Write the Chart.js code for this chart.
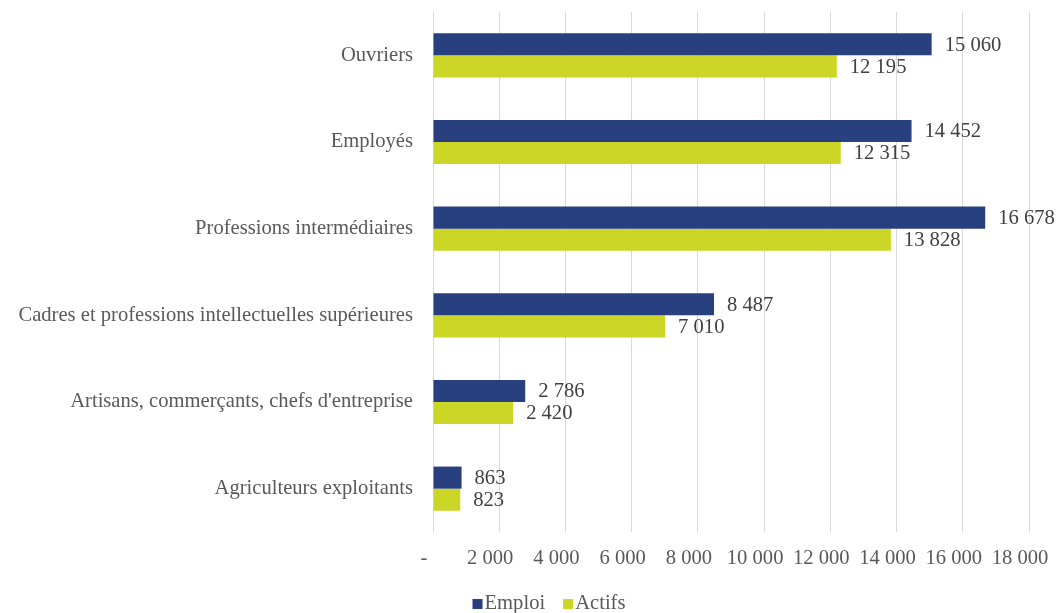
<!DOCTYPE html>
<html><head><meta charset="utf-8">
<script src="https://cdn.jsdelivr.net/npm/chart.js@4"></script>
<style>html,body{margin:0;padding:0;background:#fff}#wrap{width:1062px;height:613px}</style>
</head><body><div id="wrap"><canvas id="c" width="1062" height="613"></canvas></div>
<script>
const categories = ["Ouvriers","Employés","Professions intermédiaires","Cadres et professions intellectuelles supérieures","Artisans, commerçants, chefs d'entreprise","Agriculteurs exploitants"];
const emploi = [15060,14452,16678,8487,2786,863];
const actifs = [12195,12315,13828,7010,2420,823];
const xTicks = [0,2000,4000,6000,8000,10000,12000,14000,16000,18000];

const FONT = "'Liberation Serif', 'Times New Roman', serif";
const FS = 20.6;
const fmt = v => v === 0 ? '-' : String(v).replace(/\B(?=(\d{3})+(?!\d))/g, ' ');

const labelPlugin = {
  id: 'vlabels',
  afterDatasetsDraw(chart) {
    const ctx = chart.ctx;
    ctx.save();
    ctx.font = FS + 'px ' + FONT;
    ctx.fillStyle = '#404040';
    ctx.textAlign = 'left';
    ctx.textBaseline = 'middle';
    chart.data.datasets.forEach((ds, i) => {
      chart.getDatasetMeta(i).data.forEach((bar, j) => {
        ctx.fillText(fmt(ds.data[j]), bar.x + 13, bar.y + 1);
      });
    });
    ctx.restore();
  }
};

const legendPlugin = {
  id: 'customLegend',
  afterDraw(chart) {
    const ctx = chart.ctx;
    ctx.save();
    ctx.font = FS + 'px ' + FONT;
    ctx.textBaseline = 'middle';
    ctx.textAlign = 'left';
    const box = 10, gapBox = 2, gapItem = 18;
    const items = chart.data.datasets.map(d => ({label: d.label, color: d.backgroundColor, w: ctx.measureText(d.label).width}));
    const total = items.reduce((s, it) => s + box + gapBox + it.w, 0) + gapItem * (items.length - 1);
    let x = 549 - total / 2;
    const y = 603;
    items.forEach(it => {
      ctx.fillStyle = it.color;
      ctx.fillRect(x, y - 4, box, box);
      x += box + gapBox;
      ctx.fillStyle = '#595959';
      ctx.fillText(it.label, x, y + 1);
      x += it.w + gapItem;
    });
    ctx.restore();
  }
};

new Chart(document.getElementById('c'), {
  type: 'bar',
  data: {
    labels: categories,
    datasets: [
      {label: 'Emploi', data: emploi, backgroundColor: '#283f80', categoryPercentage: 0.51, barPercentage: 1},
      {label: 'Actifs', data: actifs, backgroundColor: '#ccd626', categoryPercentage: 0.51, barPercentage: 1}
    ]
  },
  options: {
    indexAxis: 'y',
    responsive: false,
    animation: false,
    layout: {padding: {top: 12, right: 33, left: 0, bottom: 34}},
    plugins: {
      legend: {display: false},
      tooltip: {enabled: false}
    },
    scales: {
      x: {
        min: 0, max: 18000,
        afterBuildTicks: s => { s.ticks = xTicks.map(v => ({value: v})); },
        ticks: {callback: v => fmt(v), font: {family: FONT, size: FS}, color: '#595959', padding: 14, maxRotation: 0, labelOffset: -9},
        grid: {color: '#d9d9d9', lineWidth: 1, drawTicks: false},
        border: {display: false},
        afterFit: s => { s.height = 47; s.paddingLeft = 0; s.paddingRight = 0; }
      },
      y: {
        ticks: {font: {family: FONT, size: FS}, color: '#595959', padding: 12},
        grid: {display: false},
        border: {display: false},
        afterFit: s => { s.width = 433; s.paddingTop = 0; s.paddingBottom = 0; }
      }
    }
  },
  plugins: [labelPlugin, legendPlugin]
});
</script></body></html>
